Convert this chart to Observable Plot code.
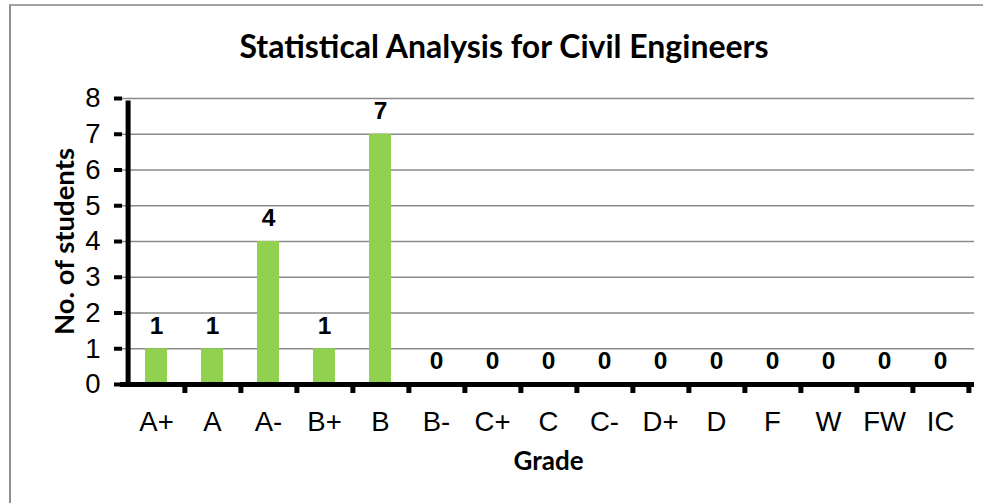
<!DOCTYPE html>
<html>
<head>
<meta charset="utf-8">
<script src="https://cdn.jsdelivr.net/npm/d3@7"></script>
<script src="https://cdn.jsdelivr.net/npm/@observablehq/plot@0.6"></script>
<style>
  html, body { margin: 0; padding: 0; background: #fff; overflow: hidden; }
  #wrap { position: relative; width: 983px; height: 503px; overflow: hidden; background: #fff; }
  #frame { position: absolute; left: 9px; top: 4px; width: 1000px; height: 600px;
           border-left: 2px solid #8f8f8f; border-top: 2px solid #a3a3a3; }
  #title { position: absolute; left: 9px; width: 990px; top: 30px; text-align: center;
           font-family: Lato, "Open Sans", sans-serif; font-weight: 700; font-size: 32px;
           line-height: 1; color: #000; }
  #chart { position: absolute; left: 0; top: 90px; }
</style>
</head>
<body>
<div id="wrap">
  <div id="frame"></div>
  <div id="title">Statistical Analysis for Civil Engineers</div>
  <div id="chart"></div>
</div>
<script>
const grades = ["A+","A","A-","B+","B","B-","C+","C","C-","D+","D","F","W","FW","IC"];
const counts = [1,1,4,1,7,0,0,0,0,0,0,0,0,0,0];
const yTicks = [0,1,2,3,4,5,6,7,8];
const gridValues = [1,2,3,4,5,6,7,8];
const yLabel = "No. of students";
const xLabel = "Grade";

const data = grades.map((g, i) => ({grade: g, count: counts[i]}));

const W = 983, H = 413;
const mL = 122, mR = 9, mT = 8, mB = 119;
const step = (W - mL - mR) / grades.length;
const sans = "'Liberation Sans', Arial, sans-serif";

const plot = Plot.plot({
  width: W,
  height: H,
  marginLeft: mL,
  marginRight: mR,
  marginTop: mT,
  marginBottom: mB,
  style: {background: "transparent", overflow: "visible"},
  x: {domain: grades, paddingInner: 0.6, paddingOuter: 0.3, align: 0.5},
  y: {domain: [0, 8]},
  marks: [
    Plot.ruleY(gridValues, {stroke: "#8a8a8a", strokeWidth: 1.5}),
    Plot.barY(data, {x: "grade", y: "count", fill: "#92D050"}),
    Plot.ruleY([0], {stroke: "#000", strokeWidth: 5, insetLeft: -2}),
    Plot.ruleX([grades[0]], {y1: 0, y2: 8, dx: -step / 2, stroke: "#000", strokeWidth: 5, insetBottom: -2.5}),
    Plot.ruleX(grades, {y1: 0, y2: 0, dx: step / 2, stroke: "#000", strokeWidth: 5, insetBottom: -9}),
    Plot.axisY({ticks: yTicks, tickSize: 8, tickPadding: 14, strokeWidth: 4, stroke: "#000",
                fontSize: 27.5, fontFamily: sans, label: null, fill: "#000",
                tickFormat: d => String(d)}),
    Plot.axisX({tickSize: 0, tickPadding: 27, fontSize: 27.5, fill: "#000",
                fontFamily: sans, label: null}),
    Plot.text(data, {x: "grade", y: "count", text: d => String(d.count), dy: -23,
                     lineAnchor: "middle", fontWeight: "bold", fontSize: 24.5,
                     fontFamily: sans, fill: "#000"}),
    Plot.text([yLabel], {frameAnchor: "left", dx: -57, rotate: -90, textAnchor: "middle",
                         fontWeight: "bold", fontSize: 27.5, fontFamily: "Lato, sans-serif", fill: "#000"}),
    Plot.text([xLabel], {frameAnchor: "bottom", dy: 77, lineAnchor: "middle", textAnchor: "middle",
                         fontWeight: "bold", fontSize: 26, fontFamily: "Lato, sans-serif", fill: "#000"})
  ]
});
document.getElementById("chart").appendChild(plot);
</script>
</body>
</html>
